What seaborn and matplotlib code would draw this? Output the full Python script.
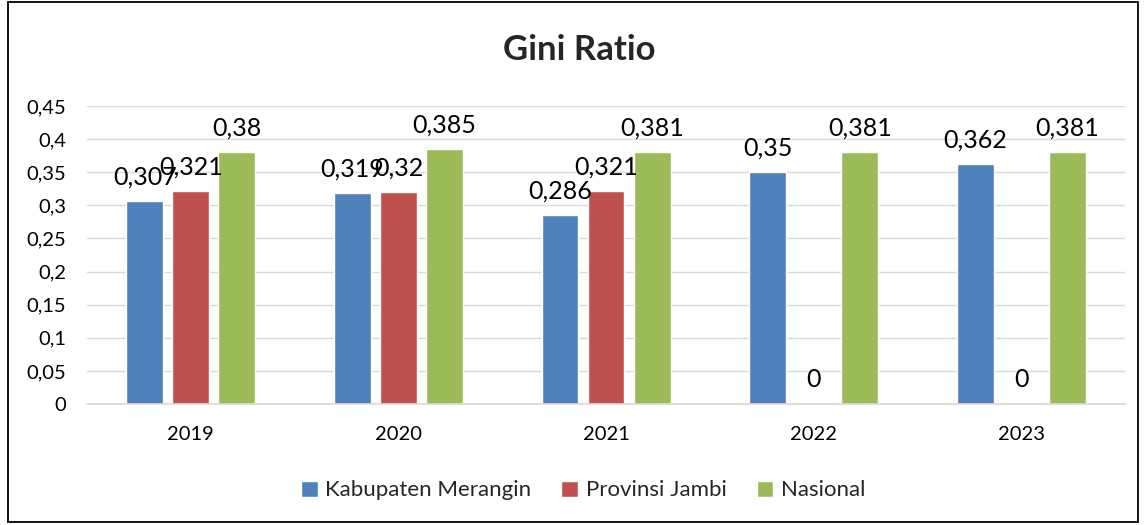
import numpy as np
import pandas as pd
import seaborn as sns
import matplotlib.pyplot as plt
from matplotlib.patches import Rectangle
from matplotlib.ticker import FuncFormatter, MultipleLocator

# --------------------------- DATA ---------------------------
years = ['2019', '2020', '2021', '2022', '2023']
series_names = ['Kabupaten Merangin', 'Provinsi Jambi', 'Nasional']
merangin = [0.307, 0.319, 0.286, 0.35, 0.362]
jambi = [0.321, 0.32, 0.321, 0, 0]
nasional = [0.38, 0.385, 0.381, 0.381, 0.381]
colors = ['#4F81BD', '#C0504D', '#9BBB59']

df = pd.DataFrame({
    'Tahun': years * 3,
    'Seri': np.repeat(series_names, len(years)),
    'Gini': merangin + jambi + nasional,
})

# --------------------------- STYLE ---------------------------
sns.set_theme(style='white')
plt.rcParams['font.family'] = ['Lato', 'DejaVu Sans']


def comma(v):
    return f'{v:g}'.replace('.', ',')


fig = plt.figure(figsize=(11.47, 5.25), dpi=100)
ax = fig.add_axes([0.0759, 0.2305, 0.905, 0.5675])

sns.barplot(data=df, x='Tahun', y='Gini', hue='Seri', order=years,
            hue_order=series_names, palette=colors, width=0.665, gap=0.2,
            saturation=1, ax=ax, legend=True)

# data labels (Excel style, comma decimal)
for cont in ax.containers:
    ax.bar_label(cont, labels=[comma(b.get_height()) for b in cont],
                 padding=9, fontsize=18, color='black')

ax.set_ylim(0, 0.45)
ax.yaxis.set_major_locator(MultipleLocator(0.05))
ax.yaxis.set_major_formatter(FuncFormatter(lambda v, p: comma(round(v, 2))))
ax.grid(axis='y', color='#D9D9D9', linewidth=1)
ax.set_axisbelow(True)
for s in ['left', 'right', 'top']:
    ax.spines[s].set_visible(False)
ax.spines['bottom'].set_color('#D9D9D9')
ax.tick_params(axis='both', length=0, labelsize=14.5, colors='black')
ax.tick_params(axis='y', pad=15)
ax.tick_params(axis='x', pad=16)
ax.set_xlabel('')
ax.set_ylabel('')

fig.text(0.505, 0.905, 'Gini Ratio', ha='center', va='center',
         fontsize=25, fontweight='bold')

leg = ax.legend(loc='center', bbox_to_anchor=(0.478, -0.29), ncol=3,
                frameon=False, fontsize=16, handlelength=0.75,
                handleheight=0.75, columnspacing=1.35, handletextpad=0.35)

# chart frame
fig.patches.append(Rectangle((0.007, 0.006), 0.985, 0.99, transform=fig.transFigure,
                             fill=False, edgecolor='black', linewidth=1.3))

fig.savefig('out.png', dpi=100)
